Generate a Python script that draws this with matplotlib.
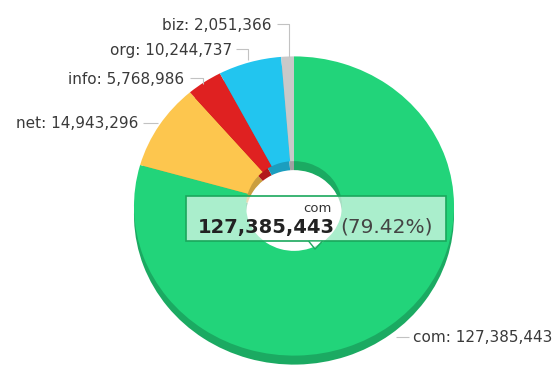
import matplotlib.pyplot as plt
import matplotlib.colors as mcolors
from matplotlib.patches import Rectangle, Polygon
from matplotlib.transforms import Affine2D

# registros por domínio de topo
dominios = ["com", "net", "info", "org", "biz"]
registros = [127385443, 14943296, 5768986, 10244737, 2051366]
cores = ["#22d47a", "#fdc64e", "#df2121", "#22c5ef", "#c9c9c9"]

LARGURA, ALTURA = 558, 368
cx, cy = 294, 206
raio = 160
achatamento = 0.935
espessura = 9
furo = 0.3

# posição dos rótulos (texto, ponto de início da linha, ponto final)
rotulos = {
    "biz": dict(texto=(272, 25), linha=[(277, 24), (289, 24), (289, 57)], ha="right"),
    "org": dict(texto=(232, 51), linha=[(236, 49), (248, 49), (248, 60)], ha="right"),
    "info": dict(texto=(184, 79), linha=[(190, 78), (203, 78), (203, 84)], ha="right"),
    "net": dict(texto=(138, 124), linha=[(143, 123), (158, 123)], ha="right"),
    "com": dict(texto=(413, 337), linha=[(396, 337), (409, 337)], ha="left"),
}


def escurecer(cor, fator=0.8):
    r, g, b = mcolors.to_rgb(cor)
    return (r * fator, g * fator, b * fator)


def desenhar_rosca(ax, deslocamento, cores_fatias):
    fatias, _ = ax.pie(
        registros,
        colors=cores_fatias,
        startangle=-90,
        counterclock=True,
        radius=raio,
        frame=True,
        wedgeprops=dict(width=raio * (1 - furo), linewidth=0),
    )
    t = Affine2D().scale(1, achatamento).translate(cx, cy + deslocamento) + ax.transData
    for f in fatias:
        f.set_transform(t)
    return fatias


fig = plt.figure(figsize=(LARGURA / 100, ALTURA / 100), dpi=100)
ax = fig.add_axes([0, 0, 1, 1])

# lateral (efeito 3D) e face superior
desenhar_rosca(ax, espessura, [escurecer(c) for c in cores])
desenhar_rosca(ax, 0, cores)

ax.set_xlim(0, LARGURA)
ax.set_ylim(ALTURA, 0)
ax.set_aspect("auto")
ax.axis("off")

for d, v in zip(dominios, registros):
    r = rotulos[d]
    xs, ys = zip(*r["linha"])
    ax.plot(xs, ys, color="#c2c2c2", lw=0.8, solid_capstyle="butt")
    ax.text(r["texto"][0], r["texto"][1], f"{d}: {v:,}", ha=r["ha"], va="center",
            fontsize=11, color="#3a3a3a")

# balão com o destaque de "com"
total = sum(registros)
pct = registros[0] / total * 100
ax.add_patch(Rectangle((186, 196), 260, 45, facecolor=(1, 1, 1, 0.62),
                       edgecolor="#1aa85c", lw=1.2))
ax.add_patch(Polygon([(309, 241.6), (322, 241.6), (315, 249)], closed=True,
                     facecolor=(1, 1, 1, 0.62), edgecolor="none"))
ax.plot([309, 315, 322], [241.6, 249, 241.6], color="#1aa85c", lw=1.0)
ax.text(317, 209, dominios[0], ha="center", va="center", fontsize=9.5, color="#333333")
ax.text(198, 227, f"{registros[0]:,}", ha="left", va="center", fontsize=14,
        fontweight="bold", color="#222222")
ax.text(340, 227, f"({pct:.2f}%)", ha="left", va="center", fontsize=14.5, color="#444444")

fig.savefig("out.png", dpi=100)
